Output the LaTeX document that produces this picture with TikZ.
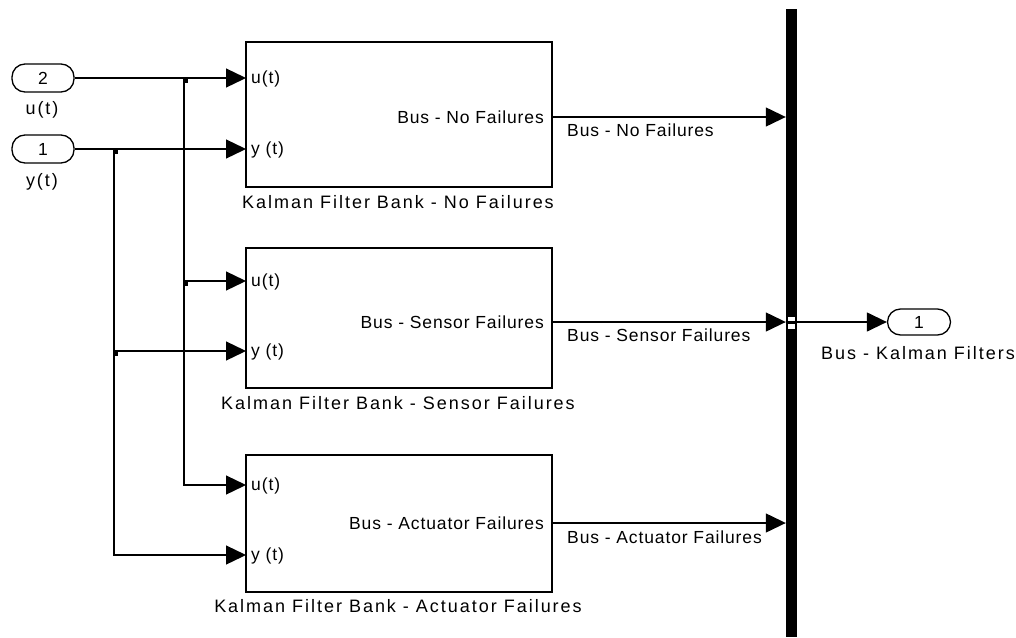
\documentclass[tikz,border=0pt]{standalone}
\usepackage{fontspec}
\setmainfont{Liberation Sans}
\newfontfamily\capfont[LetterSpace=11]{Liberation Sans}
\newfontfamily\sigfont[LetterSpace=5]{Liberation Sans}
\usetikzlibrary{arrows.meta}
\begin{document}
\begin{tikzpicture}[x=1pt,y=-1pt,
  blk/.style={draw,line width=1.4pt,minimum width=306pt,inner sep=0},
  ioport/.style={draw,line width=1.3pt,rounded corners=13pt,minimum width=62pt,minimum height=28pt,inner sep=0,font=\fontsize{17.5}{19}\selectfont},
  captext/.style={inner sep=0,font=\capfont\fontsize{18}{20}\selectfont},
  sigtext/.style={inner sep=0,font=\sigfont\fontsize{17.5}{19}\selectfont},
  wire/.style={line width=1.3pt,-{Triangle[length=20pt,width=19pt]}},
  jdot/.style={fill=black,inner sep=0,minimum size=4.5pt,anchor=north west}]
\useasboundingbox (0,0) rectangle (1016,637);
% blocks
\node[blk,minimum height=145pt] (b1) at (399,114.5) {};
\node[blk,minimum height=140pt] (b2) at (399,318) {};
\node[blk,minimum height=137pt] (b3) at (399,523.5) {};
\node[captext,anchor=base] (c1) at (398,208.5) {Kalman Filter Bank - No Failures};
\node[captext,anchor=base] (c2) at (398,409.5) {Kalman Filter Bank - Sensor Failures};
\node[captext,anchor=base] (c3) at (398,612.5) {Kalman Filter Bank - Actuator Failures};
% block port coordinates
\coordinate (b1u) at (246,78);  \coordinate (b1y) at (246,149); \coordinate (b1o) at (552,117);
\coordinate (b2u) at (246,281); \coordinate (b2y) at (246,351); \coordinate (b2o) at (552,322);
\coordinate (b3u) at (246,485); \coordinate (b3y) at (246,555); \coordinate (b3o) at (552,523);
% port labels inside blocks
\foreach \b/\uy/\yy in {1/78/149,2/281/351,3/485/555}{
  \node[sigtext,anchor=base west] (pu\b) at (251,\uy+5.5) {u(t)};
  \node[sigtext,anchor=base west] (py\b) at (251,\yy+5.5) {y (t)};
}
\node[sigtext,anchor=base east] (po1) at (544,123.5) {Bus - No Failures};
\node[sigtext,anchor=base east] (po2) at (544,328.5) {Bus - Sensor Failures};
\node[sigtext,anchor=base east] (po3) at (544,529.5) {Bus - Actuator Failures};
% inports
\node[ioport] (in2) at (43,78) {2};
\node[ioport] (in1) at (43,149) {1};
\node[captext,anchor=base] (in2l) at (42,114.5) {u(t)};
\node[captext,anchor=base] (in1l) at (42,186.5) {y(t)};
% branch points
\coordinate (ju1) at (184,78); \coordinate (ju2) at (184,281);
\coordinate (jy1) at (114,149); \coordinate (jy2) at (114,351);
\draw[wire] (in2.east) -- (b1u);
\draw[wire] (in1.east) -- (b1y);
\draw[wire] (ju1) |- (b3u);
\draw[wire] (ju2) -- (b2u);
\draw[wire] (jy1) |- (b3y);
\draw[wire] (jy2) -- (b2y);
\node[jdot] at ([xshift=-1pt]ju1) {};
\node[jdot] at ([xshift=-1pt]ju2) {};
\node[jdot] at ([xshift=-1pt]jy1) {};
\node[jdot] at ([xshift=-1pt]jy2) {};
% bus
\node[fill=black,minimum width=11pt,minimum height=628pt,inner sep=0] (bus) at (791.5,323) {};
\draw[wire] (b1o) -- (bus.west |- b1o);
\draw[wire] (b2o) -- (bus.west |- b2o);
\draw[wire] (b3o) -- (bus.west |- b3o);
\node[sigtext,anchor=base west] (s1) at (567,136.5) {Bus - No Failures};
\node[sigtext,anchor=base west] (s2) at (567,341.5) {Bus - Sensor Failures};
\node[sigtext,anchor=base west] (s3) at (567,543.5) {Bus - Actuator Failures};
\fill[white] (788,317) rectangle (795,321);
\fill[white] (788,323.5) rectangle (795,329);
% outport
\node[ioport,minimum width=63pt,minimum height=26pt] (out1) at (919,322) {1};
\draw[wire] (bus.east |- b2o) -- (out1.west);
\node[captext,anchor=base] (outl) at (918,359.5) {Bus - Kalman Filters};
\end{tikzpicture}
\end{document}
